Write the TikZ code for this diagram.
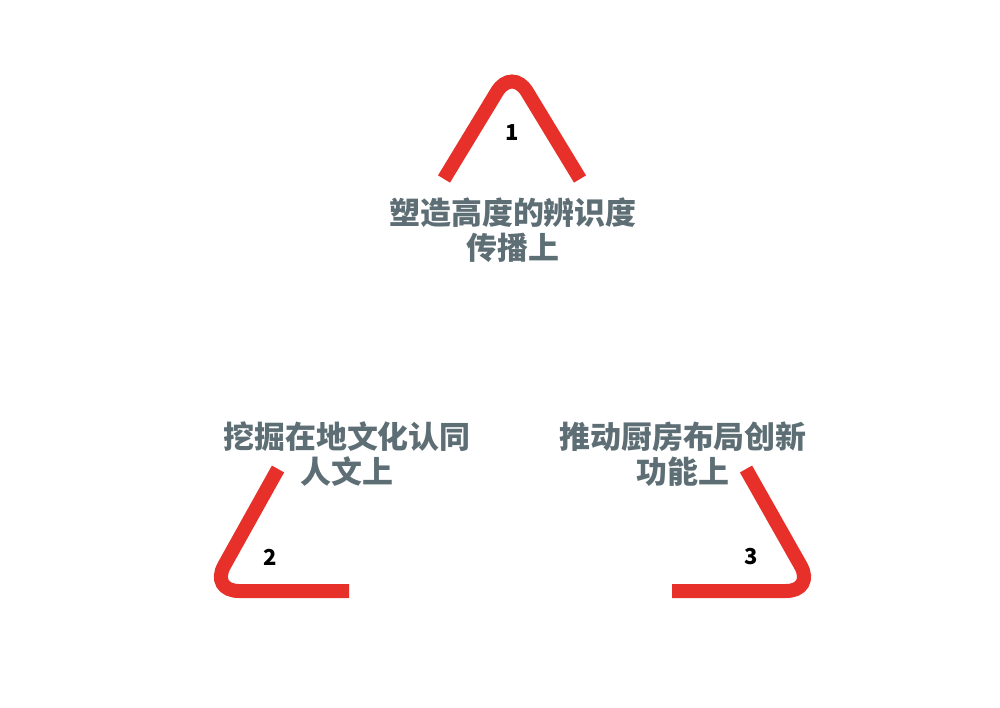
\documentclass[tikz,border=0pt]{standalone}
\usepackage{fontspec}
\newfontfamily\cjk{Noto Sans CJK SC}
\definecolor{signred}{HTML}{E8302A}
\definecolor{slate}{HTML}{5E6E75}
\tikzset{
  arm/.style={draw=signred, line width=0.28cm, rounded corners=0.58cm},
  caption/.style={text=slate, font=\cjk\bfseries\fontsize{17.6}{19.9}\selectfont, align=center, inner sep=0pt},
  num/.style={font=\cjk\bfseries\fontsize{12.5}{14}\selectfont, inner sep=0pt}
}
\begin{document}
\begin{tikzpicture}
      [x=0.02cm, y=-0.02cm]
      \useasboundingbox (0, 0) rectangle (1000, 707);
      \coordinate(t1) at (444, 179);
      \coordinate(t2) at (512, 67);
      \coordinate(t3) at (580, 179);
      \coordinate(l1) at (278, 469);
      \coordinate(l2) at (210, 591);
      \coordinate(l3) at (349, 591);
      \coordinate(r1) at (746, 469);
      \coordinate(r2) at (815, 591);
      \coordinate(r3) at (672, 591);
      \draw[arm](t1) -- (t2) -- (t3);
      \draw[arm](l1) -- (l2) -- (l3);
      \draw[arm](r1) -- (r2) -- (r3);
      \node[num](n1) at (512, 133) {1};
      \node[num](n2) at (270, 557) {2};
      \node[num](n3) at (751, 557) {3};
      \node[caption](top) at (513, 230) {塑造高度的辨识度\\传播上};
      \node[caption](left) at (347, 454) {挖掘在地文化认同\\人文上};
      \node[caption](right) at (683, 454) {推动厨房布局创新\\功能上};
  \end{tikzpicture}
\end{document}
